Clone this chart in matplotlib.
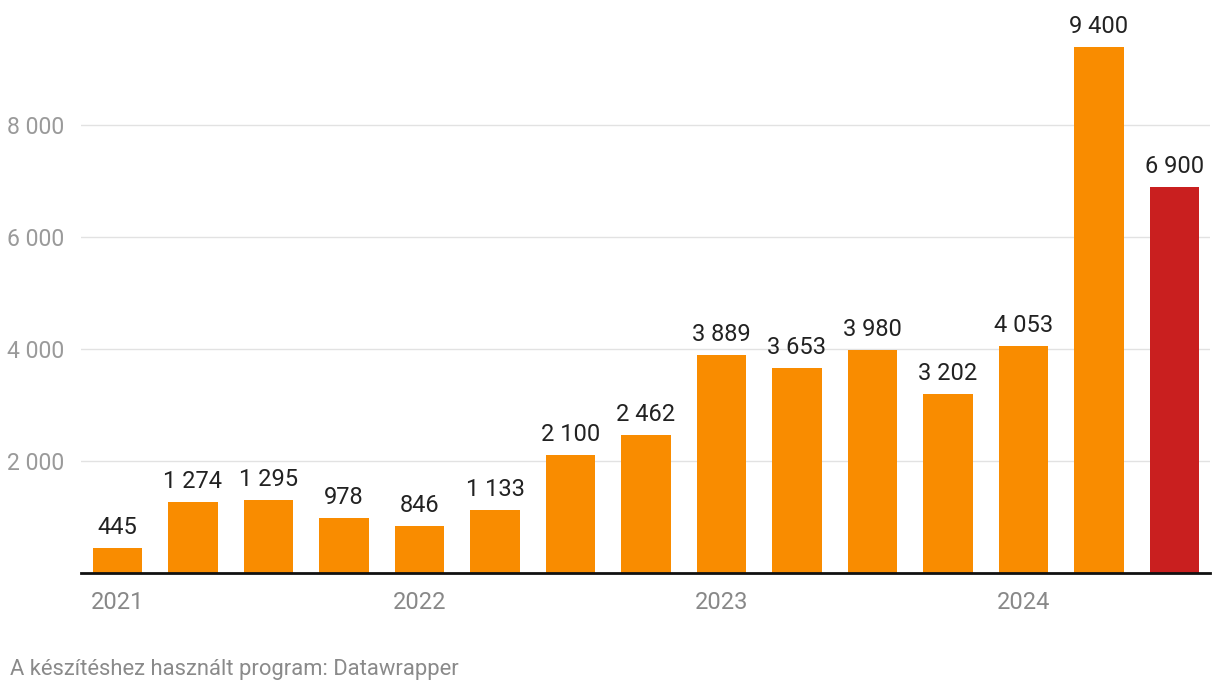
import matplotlib.pyplot as plt
from matplotlib.ticker import FuncFormatter

plt.rcParams['font.family'] = ['Roboto', 'DejaVu Sans']

# quarterly values, 2021 Q1 .. 2024 Q3 (last one highlighted)
values = [445, 1274, 1295, 978, 846, 1133, 2100, 2462, 3889, 3653, 3980, 3202, 4053, 9400, 6900]
years = ["2021", "2022", "2023", "2024"]
year_pos = [0, 4, 8, 12]
colors = ['#f98c00'] * (len(values) - 1) + ['#c91f1f']

def fmt(v):
    return f"{int(v):,}".replace(",", " ")

fig = plt.figure(figsize=(12.2, 6.96), dpi=100)
ax = fig.add_axes([81 / 1220, 1 - 573 / 696, (1210 - 81) / 1220, 560 / 696])

x = list(range(len(values)))
bw = 0.65
ax.bar(x, values, width=bw, color=colors, zorder=3)

for xi, v in zip(x, values):
    ax.annotate(fmt(v), (xi, v), xytext=(0, 6.5), textcoords='offset points',
                ha='center', va='bottom', fontsize=17, color='#222222')

ax.set_xlim(-0.483, 14.47)
ax.set_ylim(0, 10000)
ax.set_yticks([2000, 4000, 6000, 8000])
ax.yaxis.set_major_formatter(FuncFormatter(lambda v, p: fmt(v)))
ax.tick_params(axis='y', length=0, pad=12, labelsize=16.6, labelcolor='#9a9a9a')
ax.set_xticks([])
ax.grid(axis='y', color='#e2e2e2', linewidth=1, zorder=0)

for s in ['top', 'right', 'left']:
    ax.spines[s].set_visible(False)
ax.spines['bottom'].set_color('#111111')
ax.spines['bottom'].set_linewidth(2)
ax.spines['bottom'].set_zorder(4)

for p, y in zip(year_pos, years):
    ax.text(p - bw / 2 - 0.03, -0.052, y, transform=ax.get_xaxis_transform(),
            ha='left', va='center', fontsize=17, color='#888888')

fig.text(10 / 1220, 1 - 670 / 696, "A készítéshez használt program: Datawrapper",
         ha='left', va='center', fontsize=15.8, color='#8a8a8a')

fig.savefig("out.png", dpi=100)
